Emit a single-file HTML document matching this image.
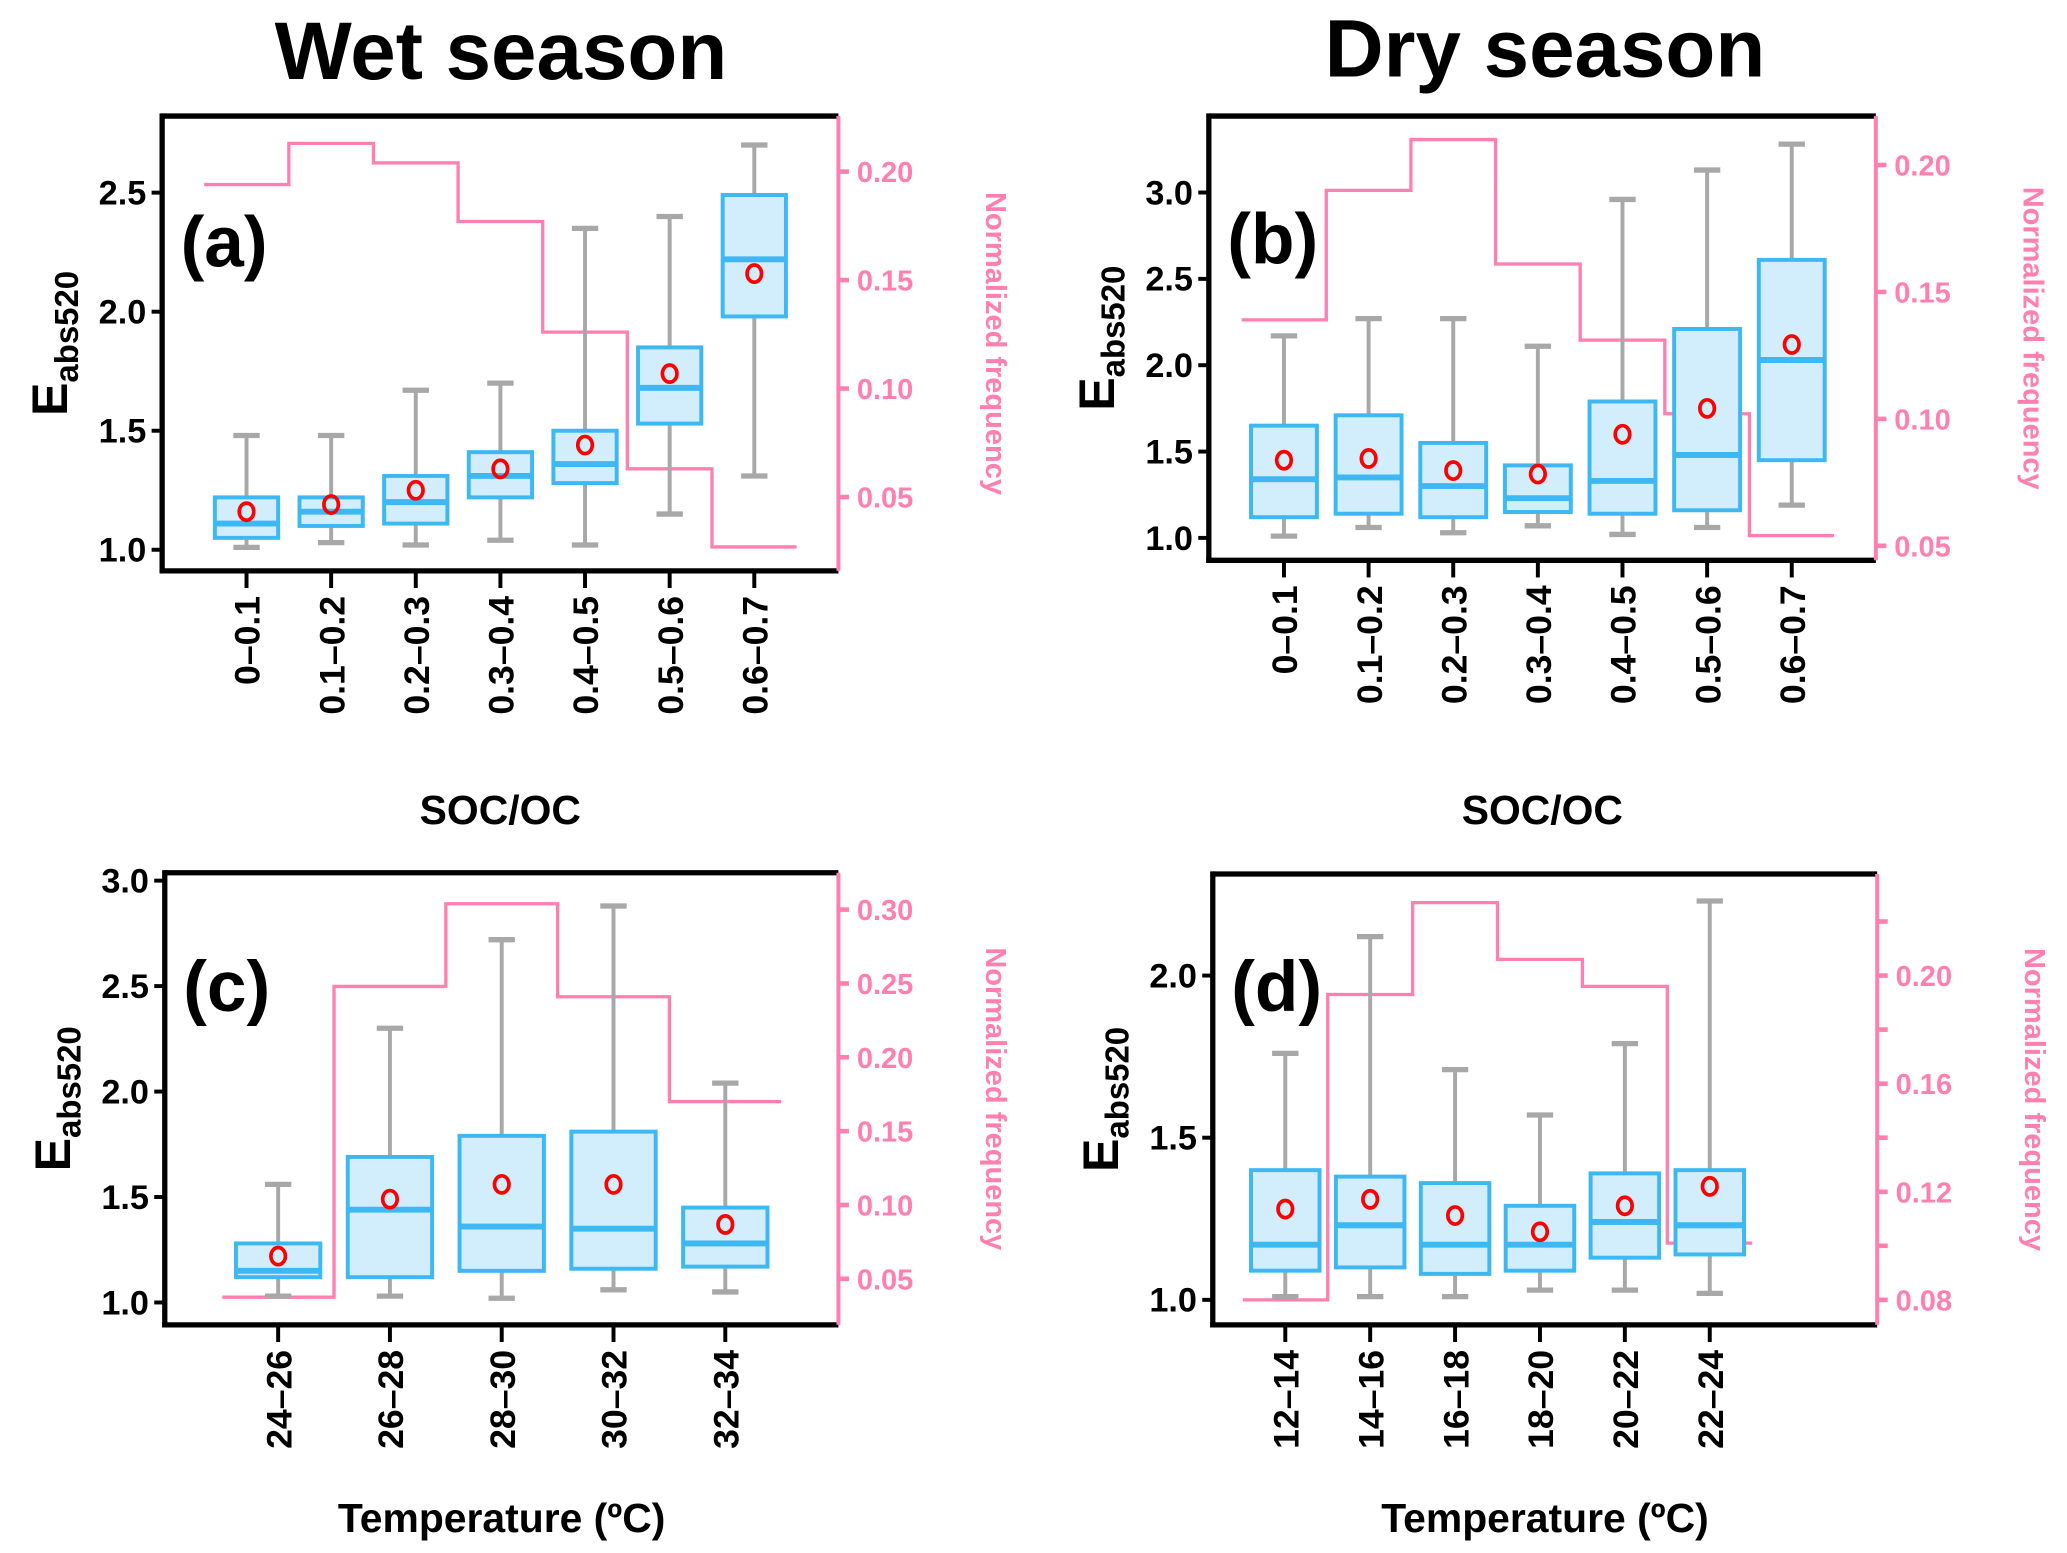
<!DOCTYPE html>
<html><head><meta charset="utf-8"><style>
html,body{margin:0;padding:0;background:#fff}
svg{display:block}
text{font-family:"Liberation Sans",sans-serif}
</style></head><body>
<svg id="fig" width="2067" height="1553" viewBox="0 0 1568 1178" xmlns="http://www.w3.org/2000/svg">
<text x="380" y="60" font-size="62" font-weight="bold" text-anchor="middle">Wet season</text>
<text x="1172" y="58" font-size="62" font-weight="bold" text-anchor="middle">Dry season</text>
</svg>
<script>
const catsA = ["0–0.1","0.1–0.2","0.2–0.3","0.3–0.4","0.4–0.5","0.5–0.6","0.6–0.7"];
const loA = [1.01,1.03,1.02,1.04,1.02,1.15,1.31];
const q1A = [1.05,1.10,1.11,1.22,1.28,1.53,1.98];
const medA = [1.11,1.16,1.20,1.31,1.36,1.68,2.22];
const q3A = [1.22,1.22,1.31,1.41,1.50,1.85,2.49];
const hiA = [1.48,1.48,1.67,1.70,2.35,2.40,2.70];
const meanA = [1.16,1.19,1.25,1.34,1.44,1.74,2.16];
const freqA = [0.194,0.213,0.204,0.177,0.126,0.063,0.027];
const yTicksA = [1.0,1.5,2.0,2.5];
const rTicksA = [0.05,0.10,0.15,0.20];

const catsB = catsA;
const loB = [1.01,1.06,1.03,1.07,1.02,1.06,1.19];
const q1B = [1.12,1.14,1.12,1.15,1.14,1.16,1.45];
const medB = [1.34,1.35,1.30,1.23,1.33,1.48,2.03];
const q3B = [1.65,1.71,1.55,1.42,1.79,2.21,2.61];
const hiB = [2.17,2.27,2.27,2.11,2.96,3.13,3.28];
const meanB = [1.45,1.46,1.39,1.37,1.60,1.75,2.12];
const freqB = [0.139,0.190,0.210,0.161,0.131,0.102,0.054];
const yTicksB = [1.0,1.5,2.0,2.5,3.0];
const rTicksB = [0.05,0.10,0.15,0.20];

const catsC = ["24–26","26–28","28–30","30–32","32–34"];
const loC = [1.03,1.03,1.02,1.06,1.05];
const q1C = [1.12,1.12,1.15,1.16,1.17];
const medC = [1.15,1.44,1.36,1.35,1.28];
const q3C = [1.28,1.69,1.79,1.81,1.45];
const hiC = [1.56,2.30,2.72,2.88,2.04];
const meanC = [1.22,1.49,1.56,1.56,1.37];
const freqC = [0.0375,0.248,0.304,0.241,0.170];
const yTicksC = [1.0,1.5,2.0,2.5,3.0];
const rTicksC = [0.05,0.10,0.15,0.20,0.25,0.30];

const catsD = ["12–14","14–16","16–18","18–20","20–22","22–24"];
const loD = [1.01,1.01,1.01,1.03,1.03,1.02];
const q1D = [1.09,1.10,1.08,1.09,1.13,1.14];
const medD = [1.17,1.23,1.17,1.17,1.24,1.23];
const q3D = [1.40,1.38,1.36,1.29,1.39,1.40];
const hiD = [1.76,2.12,1.71,1.57,1.79,2.23];
const meanD = [1.28,1.31,1.26,1.21,1.29,1.35];
const freqD = [0.080,0.193,0.227,0.206,0.196,0.101];
const yTicksD = [1.0,1.5,2.0];
const rTicksD = [0.08,0.10,0.12,0.14,0.16,0.18,0.20,0.22];
const rLabelsD = [0.08,0.12,0.16,0.20];

const NS="http://www.w3.org/2000/svg";
const svg=document.getElementById('fig');
function mk(tag,attrs,parent){const e=document.createElementNS(NS,tag);for(const k in attrs)e.setAttribute(k,attrs[k]);(parent||svg).appendChild(e);return e;}

function panel(p){
  const g=mk('g',{});
  
  
  const y=v=>p.y0+(v-p.v0)*p.ypx;
  const yr=v=>p.r0y+(v-p.r0)*p.rpx;
  const x=i=>p.x0+i*p.step;
  let d='';
  p.freq.forEach((f,i)=>{const a=x(i)-p.step/2,b=x(i)+p.step/2;d+=(i?'L':'M')+a+','+yr(f)+'L'+b+','+yr(f);});
  const h=mk('path',{d:d,fill:'none',stroke:'#ff7fb0','stroke-width':2.5},g);
  
  
  p.cats.forEach((c,i)=>{
    const cx=x(i),w=p.bw;
    const bg=mk('g',{},g);
    
    
    mk('line',{x1:cx,x2:cx,y1:y(p.lo[i]),y2:y(p.hi[i]),stroke:'#a8a8a8','stroke-width':3},bg);
    mk('line',{x1:cx-10,x2:cx+10,y1:y(p.lo[i]),y2:y(p.lo[i]),stroke:'#a8a8a8','stroke-width':4},bg);
    mk('line',{x1:cx-10,x2:cx+10,y1:y(p.hi[i]),y2:y(p.hi[i]),stroke:'#a8a8a8','stroke-width':4},bg);
    mk('rect',{x:cx-w/2,y:y(p.q3[i]),width:w,height:y(p.q1[i])-y(p.q3[i]),fill:'#d2edfb',stroke:'#3db8f2','stroke-width':3},bg);
    mk('line',{x1:cx-w/2,x2:cx+w/2,y1:y(p.med[i]),y2:y(p.med[i]),stroke:'#3db8f2','stroke-width':4.5},bg);
    mk('ellipse',{cx:cx,cy:y(p.mean[i]),rx:5.5,ry:6.5,fill:'none',stroke:'#ff0000','stroke-width':2.8},bg);
    mk('line',{x1:cx,x2:cx,y1:p.bot,y2:p.bot+13,stroke:'#000','stroke-width':3},g);
    const t=mk('text',{x:0,y:0,'font-size':27,'font-weight':'bold','text-anchor':'end',transform:`translate(${cx+10},${p.bot+19}) rotate(-90)`},g);
    t.textContent=c;
    
    
  });
  mk('line',{x1:p.left,x2:p.right,y1:p.top,y2:p.top,stroke:'#000','stroke-width':4},g);
  mk('line',{x1:p.left,x2:p.left,y1:p.top-2,y2:p.bot+2,stroke:'#000','stroke-width':4},g);
  mk('line',{x1:p.left-2,x2:p.right,y1:p.bot,y2:p.bot,stroke:'#000','stroke-width':4},g);
  mk('line',{x1:p.right,x2:p.right,y1:p.top,y2:p.bot,stroke:'#ff7fb0','stroke-width':3},g);
  p.yt.forEach(v=>{
    mk('line',{x1:p.left-8,x2:p.left,y1:y(v),y2:y(v),stroke:'#000','stroke-width':3},g);
    const t=mk('text',{x:p.left-12,y:y(v)+9,'font-size':26,'font-weight':'bold','text-anchor':'end'},g);
    t.textContent=v.toFixed(1);
    
    
  });
  p.rt.forEach(v=>{
    mk('line',{x1:p.right,x2:p.right+8,y1:yr(v),y2:yr(v),stroke:'#ff7fb0','stroke-width':3.5},g);
  });
  p.rl.forEach(v=>{
    const t=mk('text',{x:p.right+14,y:yr(v)+8,'font-size':22,'font-weight':'bold',fill:'#ff7fb0'},g);
    t.textContent=v.toFixed(2);
    
    
  });
  const cy=(p.top+p.bot)/2;
  const yl=mk('text',{x:0,y:0,'font-size':38,'font-weight':'bold','text-anchor':'middle',transform:`translate(${p.left-72},${cy}) rotate(-90)`},g);
  yl.innerHTML='E<tspan font-size="25" dy="8">abs520</tspan>';
  
  
  const rl=mk('text',{x:0,y:0,'font-size':22,'font-weight':'bold',fill:'#ff7fb0','text-anchor':'middle',transform:`translate(${p.right+112},${cy}) rotate(90)`},g);
  rl.textContent='Normalized frequency';
  
  
  const lb=mk('text',{x:p.left+14,y:p.lab,'font-size':54,'font-weight':'bold'},g);
  lb.textContent='('+p.id+')';
  
  
  const xt=mk('text',{x:(p.left+p.right)/2,y:p.xty,'font-size':31,'font-weight':'bold','text-anchor':'middle'},g);
  xt.textContent=p.xtitle;
  
  
}

panel({id:'a',cats:catsA,lo:loA,q1:q1A,med:medA,q3:q3A,hi:hiA,mean:meanA,freq:freqA,yt:yTicksA,rt:rTicksA,rl:rTicksA,
  left:123,right:636,top:88,bot:433,x0:187,step:64.2,bw:48,v0:1.0,y0:417,ypx:-180.6,r0:0.05,r0y:377,rpx:-1646,lab:202,xtitle:'SOC/OC',xty:625});
panel({id:'b',cats:catsB,lo:loB,q1:q1B,med:medB,q3:q3B,hi:hiB,mean:meanB,freq:freqB,yt:yTicksB,rt:rTicksB,rl:rTicksB,
  left:917,right:1423,top:88,bot:425,x0:974,step:64.2,bw:50,v0:1.0,y0:408,ypx:-131,r0:0.05,r0y:414,rpx:-1926,lab:200,xtitle:'SOC/OC',xty:625});
panel({id:'c',cats:catsC,lo:loC,q1:q1C,med:medC,q3:q3C,hi:hiC,mean:meanC,freq:freqC,yt:yTicksC,rt:rTicksC,rl:rTicksC,
  left:125,right:636,top:662,bot:1005,x0:211,step:84.8,bw:64,v0:1.0,y0:988,ypx:-160,r0:0.05,r0y:970,rpx:-1120,lab:767,xtitle:'Temperature (ºC)',xty:1162});
panel({id:'d',cats:catsD,lo:loD,q1:q1D,med:medD,q3:q3D,hi:hiD,mean:meanD,freq:freqD,yt:yTicksD,rt:rTicksD,rl:rLabelsD,
  left:920,right:1424,top:663,bot:1005,x0:975,step:64.4,bw:52,v0:1.0,y0:986,ypx:-246,r0:0.08,r0y:986,rpx:-2050,lab:767,xtitle:'Temperature (ºC)',xty:1162});
</script>
</body></html>
